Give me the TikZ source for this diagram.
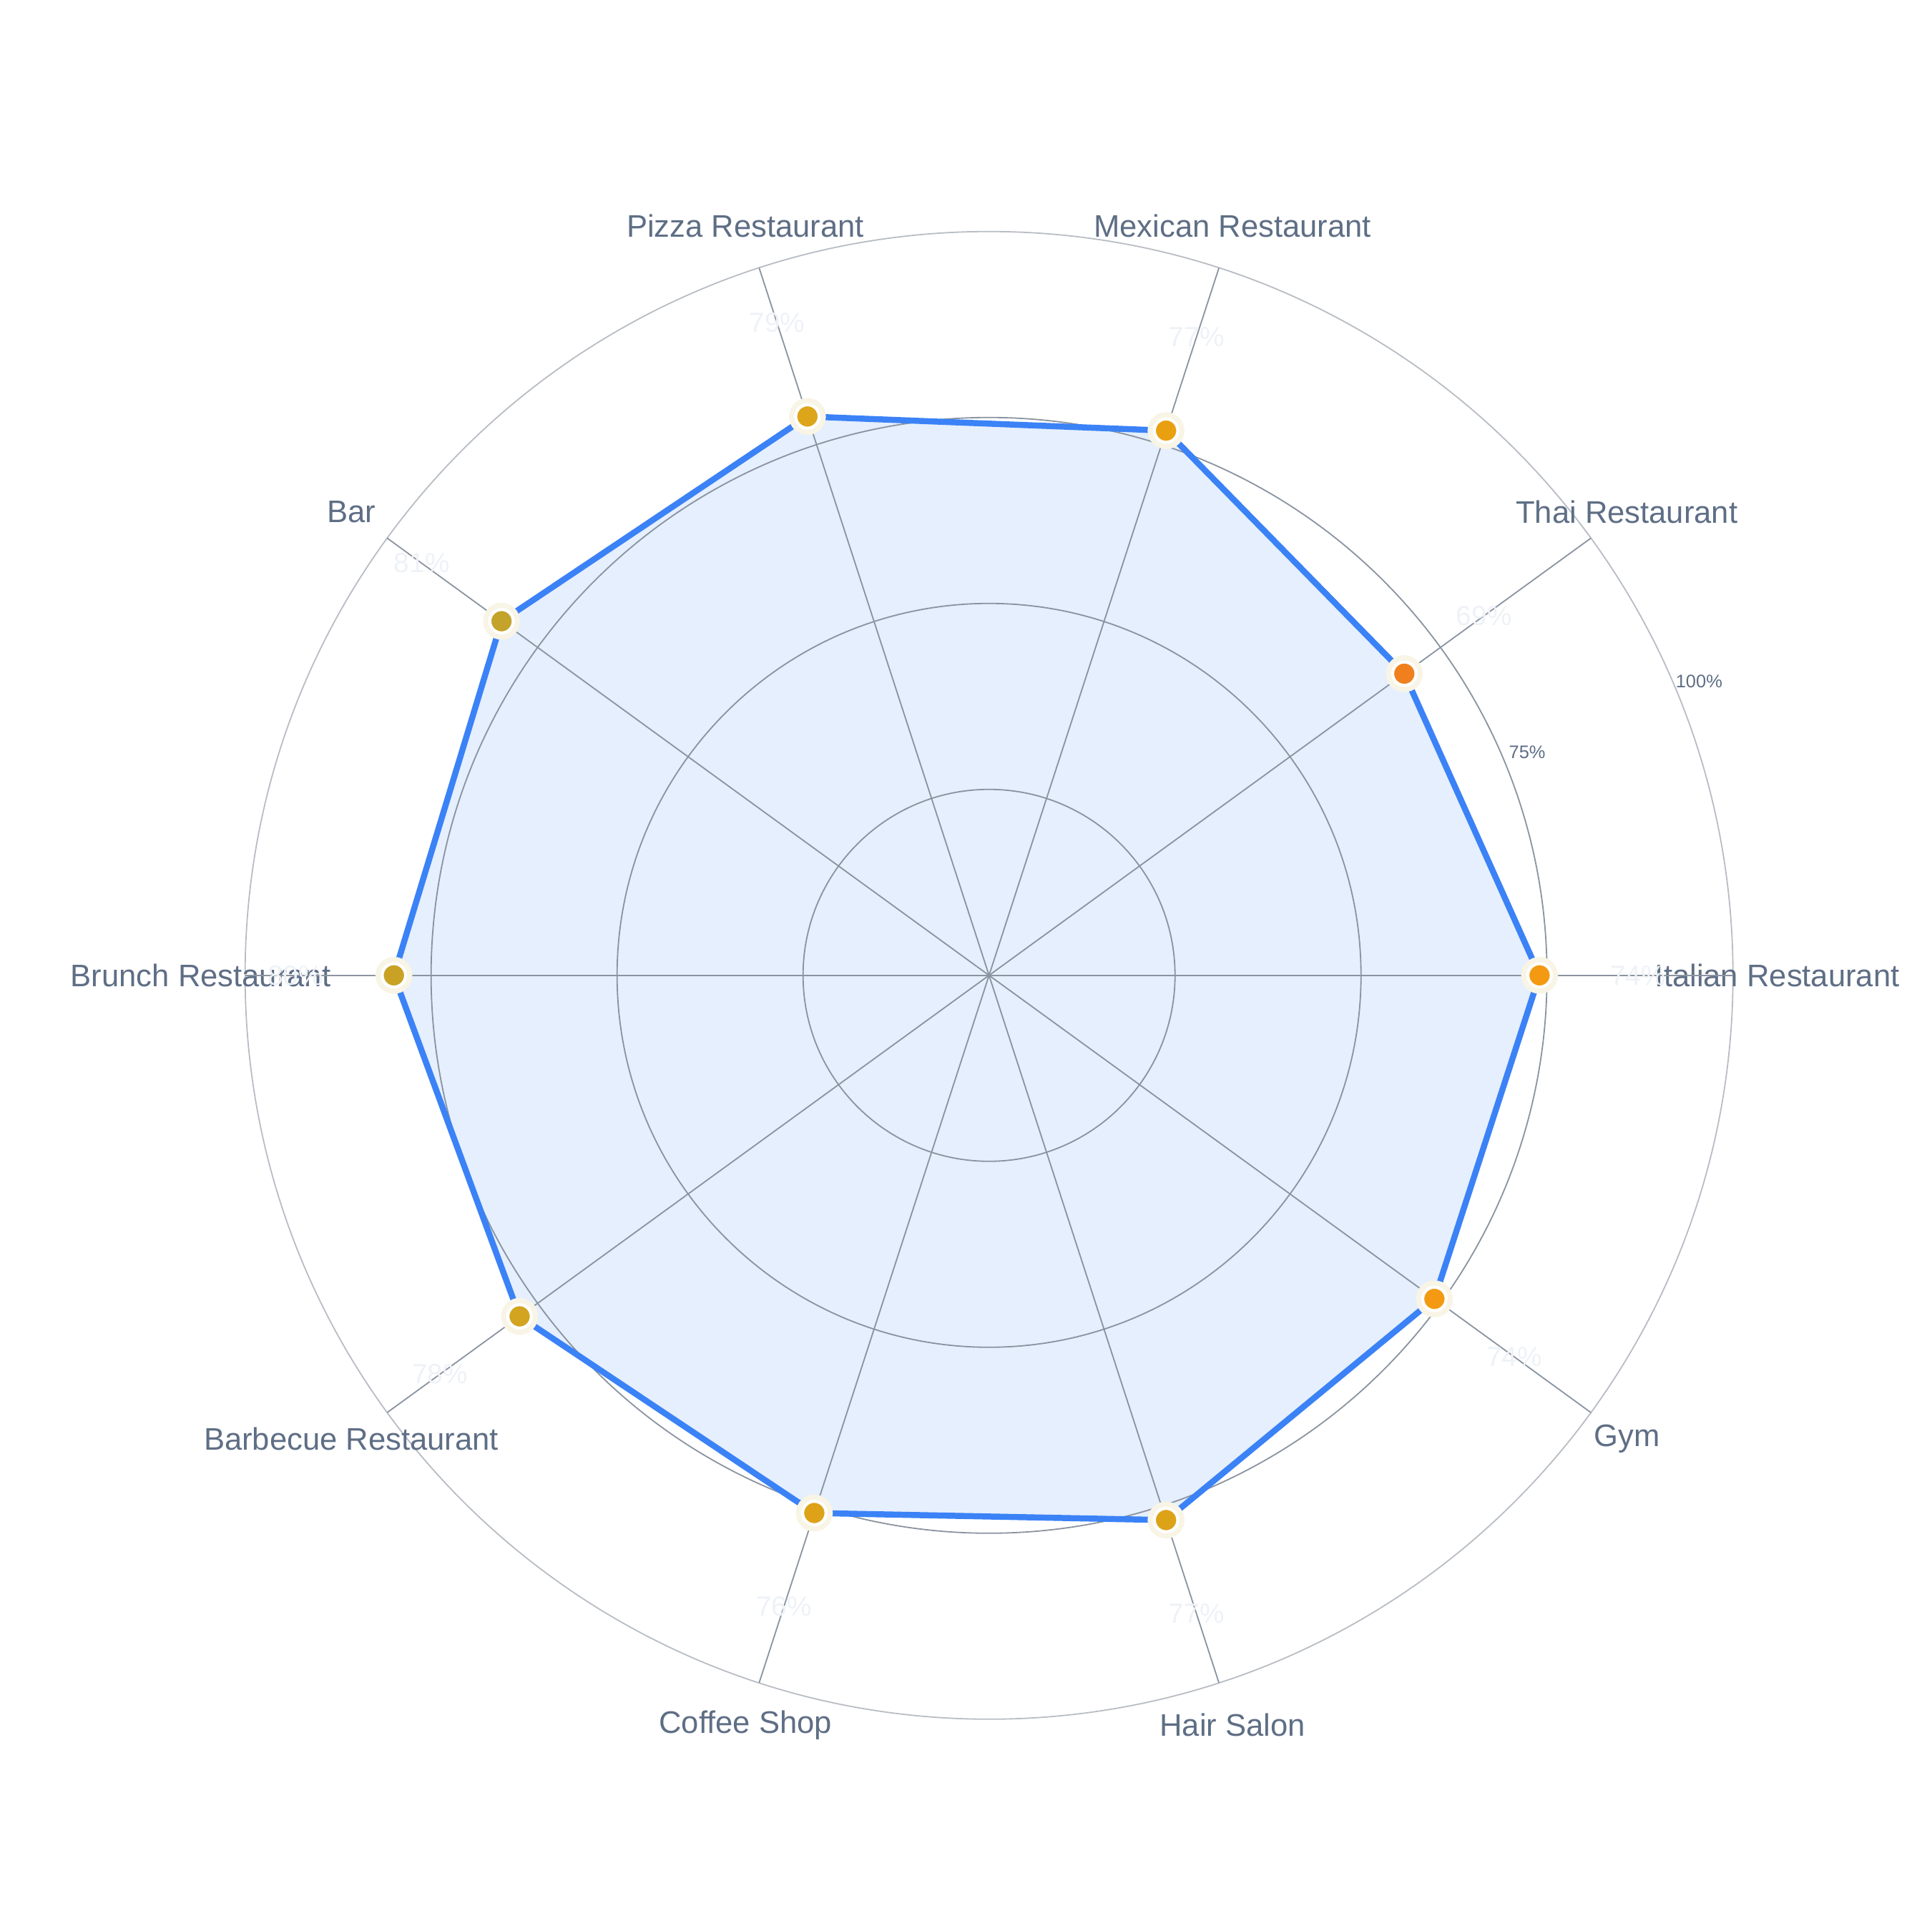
\documentclass[tikz,border=0pt]{standalone}
\usepackage{fontspec}
\setmainfont{Liberation Sans}
\usetikzlibrary{calc}
\definecolor{gridgray}{HTML}{8A94A0}
\definecolor{ringgray}{HTML}{B8BDC4}
\definecolor{axistext}{HTML}{5E6E85}
\definecolor{linkblue}{HTML}{3B82F6}
\definecolor{areafill}{HTML}{E5EFFD}
\definecolor{halo}{HTML}{F8F4E6}
\definecolor{valtext}{HTML}{EEF2F7}
\tikzset{
  catlabel/.style={text=axistext, font=\fontsize{7.2}{8}\selectfont, inner sep=0pt},
  ticklabel/.style={text=axistext, font=\fontsize{4.2}{5}\selectfont, inner sep=0pt},
  vallabel/.style={text=valtext, font=\fontsize{6.4}{7}\selectfont, inner sep=0pt},
  marker/.style={circle, draw=white, line width=0.7pt, minimum size=5.4pt, inner sep=0pt},
}
\begin{document}
\begin{tikzpicture}[x=0.01cm, y=0.01cm]
    % canvas
    \useasboundingbox (0,0) rectangle (1568,1568);
    \coordinate (c) at (803,776);
    % outer ring
    \draw [ringgray, line width=0.3pt] (c) circle (604);
    % radial ticks
    \foreach \v/\t in {25/25\%,50/50\%,75/75\%,100/100\%}
        \node [ticklabel] (tick\v) at ($(c)+(22.5:{6.04*\v+20})$) {\t};
    % data
    \foreach \i/\a/\v/\name in {1/0/74/Italian Restaurant,
        2/36/69/Thai Restaurant, 3/72/77/Mexican Restaurant,
        4/108/79/Pizza Restaurant, 5/144/81/Bar,
        6/180/80/Brunch Restaurant, 7/216/78/Barbecue Restaurant,
        8/252/76/Coffee Shop, 9/288/77/Hair Salon,
        10/324/74/Gym}{
        \coordinate (v\i) at ($(c)+(\a:{6.04*\v})$);
        \node [catlabel] (cat\i) at ($(c)+(\a:640)$) {\name};
    }
    \fill [areafill]
        (v1) -- (v2) -- (v3) -- (v4) -- (v5) -- (v6) -- (v7) -- (v8) -- (v9) -- (v10) -- cycle;
    % rings and spokes over the area
    \foreach \r in {151,302,453} \draw [gridgray, line width=0.3pt] (c) circle (\r);
    \foreach \a in {0,36,...,324} \draw [gridgray, line width=0.3pt] (c) -- ++(\a:604);
    \draw [linkblue, line width=1.4pt, line join=round]
        (v1) -- (v2) -- (v3) -- (v4) -- (v5) -- (v6) -- (v7) -- (v8) -- (v9) -- (v10) -- cycle;
    \foreach \i/\a/\v/\col in {1/0/74/F39A12, 2/36/69/F0801E, 3/72/77/E9A010,
        4/108/79/DDA51A, 5/144/81/C4A32A, 6/180/80/C9A225, 7/216/78/D2A420,
        8/252/76/DDA218, 9/288/77/DCA218, 10/324/74/F39A12}{
        \definecolor{dot}{HTML}{\col}
        \fill [halo] (v\i) circle (15);
        \node [marker, fill=dot] (p\i) at (v\i) {};
        \node [vallabel] (val\i) at ($(c)+(\a:{6.04*\v+80})$) {\v\%};
    }
\end{tikzpicture}
\end{document}
